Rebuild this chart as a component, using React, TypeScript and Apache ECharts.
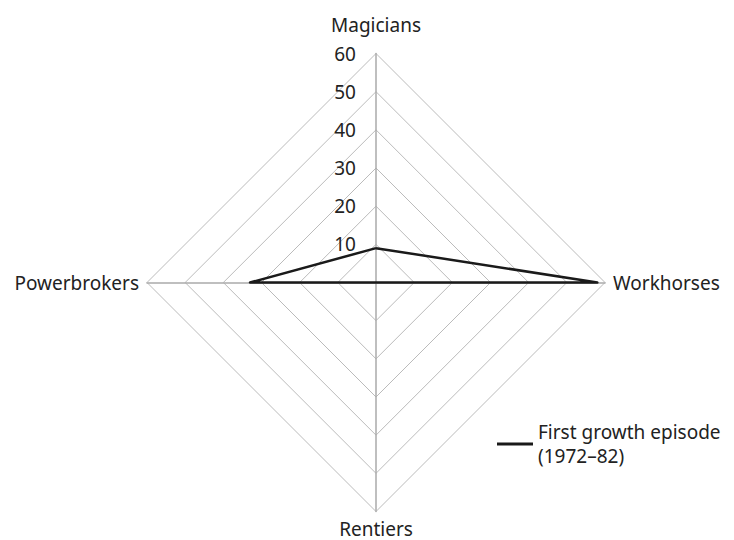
import React, { useEffect, useRef } from "react";
import * as echarts from "echarts";

// ECharts radar runs counter-clockwise from the top
const indicators = ["Magicians", "Powerbrokers", "Rentiers", "Workhorses"];
const maxValue = 60;
const seriesName = "First growth episode\n(1972–82)";
const values = [9, 33, 0, 58];

export default function App() {
  const ref = useRef<HTMLDivElement>(null);
  useEffect(() => {
    const chart = echarts.init(ref.current!, null, { renderer: "svg" });
    const font = "Noto Sans";
    const fs = 19;
    chart.setOption({
      animation: false,
      backgroundColor: "#fff",
      textStyle: { fontFamily: font },
      legend: {
        left: 492,
        top: 403,
        icon: "rect",
        itemWidth: 36,
        itemHeight: 3,
        data: [seriesName],
        textStyle: {
          fontFamily: font,
          fontSize: fs,
          color: "#222",
          lineHeight: 24,
          padding: [24, 0, 0, 0],
        },
      },
      radar: {
        center: [376, 282.5],
        radius: 229,
        startAngle: 90,
        shape: "polygon",
        splitNumber: 6,
        nameGap: 8,
        indicator: indicators.map((n, i) => ({
          name: n,
          min: 0,
          max: maxValue,
          axisLabel: i === 0 ? { show: true } : { show: false },
        })),
        axisName: {
          color: "#222",
          fontFamily: font,
          fontSize: fs,
          lineHeight: 18,
          formatter: (name: string) => (name === "Magicians" ? `{top|${name}}` : name),
          rich: {
            top: { fontFamily: font, fontSize: fs, lineHeight: 18, color: "#222", padding: [0, 0, 10, 0] },
          },
        },
        axisLine: { lineStyle: { color: "#aaa", width: 1.5 } },
        splitLine: { lineStyle: { color: "#bbb", width: 1 } },
        splitArea: { show: false },
        axisLabel: {
          show: false,
          showMinLabel: false,
          color: "#222",
          fontFamily: font,
          fontSize: fs,
          margin: 20,
        },
      },
      series: [
        {
          type: "radar",
          name: seriesName,
          symbol: "none",
          lineStyle: { color: "#1a1a1a", width: 2.5 },
          itemStyle: { color: "#1a1a1a" },
          data: [{ value: values, name: seriesName }],
        },
      ],
    });
    return () => chart.dispose();
  }, []);
  return <div ref={ref} style={{ width: 734, height: 540, position: "absolute", left: 0, top: 0 }} />;
}
